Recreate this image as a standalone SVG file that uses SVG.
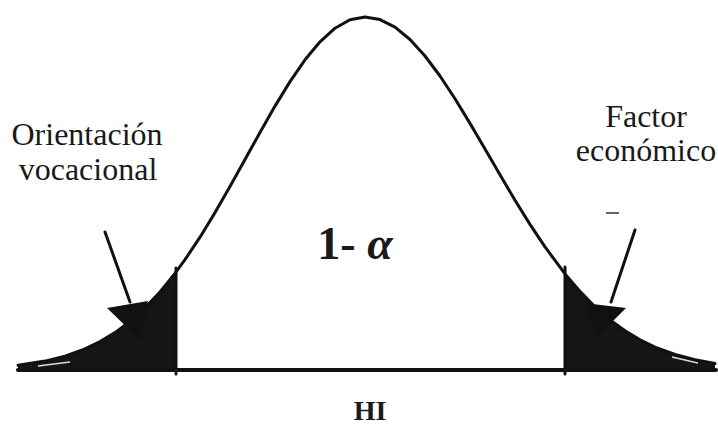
<svg xmlns="http://www.w3.org/2000/svg" width="718" height="427" viewBox="0 0 718 427">
<style>
.lbl{font-family:"Liberation Serif","Times New Roman",serif;fill:#1a1a1a;text-anchor:middle}
.ln{fill:none;stroke:#111;stroke-linecap:round;stroke-linejoin:round}
.tail{fill:#151515;stroke:none}
</style>
<rect width="718" height="427" fill="#fff"/>
<g id="tails">
<path class="tail" d="M18,370 L18,365.3 L45,361.1 L65,356.1 L85,348.9 L100,341.6 L115,332.6 L130,321.4 L145,307.9 L160,292 L175,273.4 L175,370 Z"/>
<path class="tail" d="M565,370 L565,273.9 L580,291.5 L595,306.8 L610,319.9 L625,330.8 L640,339.8 L655,347.1 L675,354.5 L695,359.8 L715,363.4 L715,370 Z"/>
<path d="M147,305 L172,278 M38,366 L70,362 M568,278 L588,297 M672,357 L698,363" fill="none" stroke="#ddd" stroke-width="1.5"/>
</g>
<g id="curve">
<path class="ln" stroke-width="3" d="M18,365.3 L45,361.1 L65,356.1 L85,348.9 L100,341.6 L115,332.6 L130,321.4 L145,307.9 L160,292 L175,273.4 L185,259.7 L200,237.2 L215,212.6 L230,186.5 L245,159.5 L260,132.4 L275,106.1 L290,81.6 L305,59.8 L320,41.8 L335,28.2 L350,19.8 L365,17 L380,19.6 L395,27.2 L410,39.5 L425,56 L440,76 L455,98.8 L470,123.4 L485,149 L500,174.8 L515,200.2 L530,224.4 L545,246.9 L565,273.9 L580,291.5 L595,306.8 L610,319.9 L625,330.8 L640,339.8 L655,347.1 L675,354.5 L695,359.8 L715,363.4"/>
</g>
<g id="axis">
<line class="ln" x1="18" y1="370" x2="716" y2="370" stroke-width="4"/>
<line class="ln" x1="176" y1="268" x2="176" y2="374" stroke-width="3"/>
<line class="ln" x1="565" y1="267" x2="565" y2="374" stroke-width="3"/>
</g>
<g id="connectors">
<line class="ln" x1="105" y1="232" x2="130" y2="302" stroke-width="3"/>
<polygon points="107,308 148,301 140,340" fill="#111"/>
<line class="ln" x1="635" y1="230" x2="611" y2="302" stroke-width="3"/>
<polygon points="584,303 626,308 596,338" fill="#111"/>
</g>
<g id="label-left">
<text class="lbl" x="87" y="145" font-size="32">Orientación</text>
<text class="lbl" x="88" y="180" font-size="32">vocacional</text>
</g>
<g id="label-right">
<text class="lbl" x="646" y="127" font-size="32">Factor</text>
<text class="lbl" x="646" y="161" font-size="32">económico</text>
<line x1="606" y1="213" x2="619" y2="213" stroke="#333" stroke-width="1.5"/>
</g>
<g id="label-center">
<text class="lbl" x="355" y="259" font-size="46" font-weight="bold">1- <tspan font-style="italic">α</tspan></text>
</g>
<g id="label-axis">
<text class="lbl" x="370" y="420" font-size="28" font-weight="bold">HI</text>
</g>
</svg>
